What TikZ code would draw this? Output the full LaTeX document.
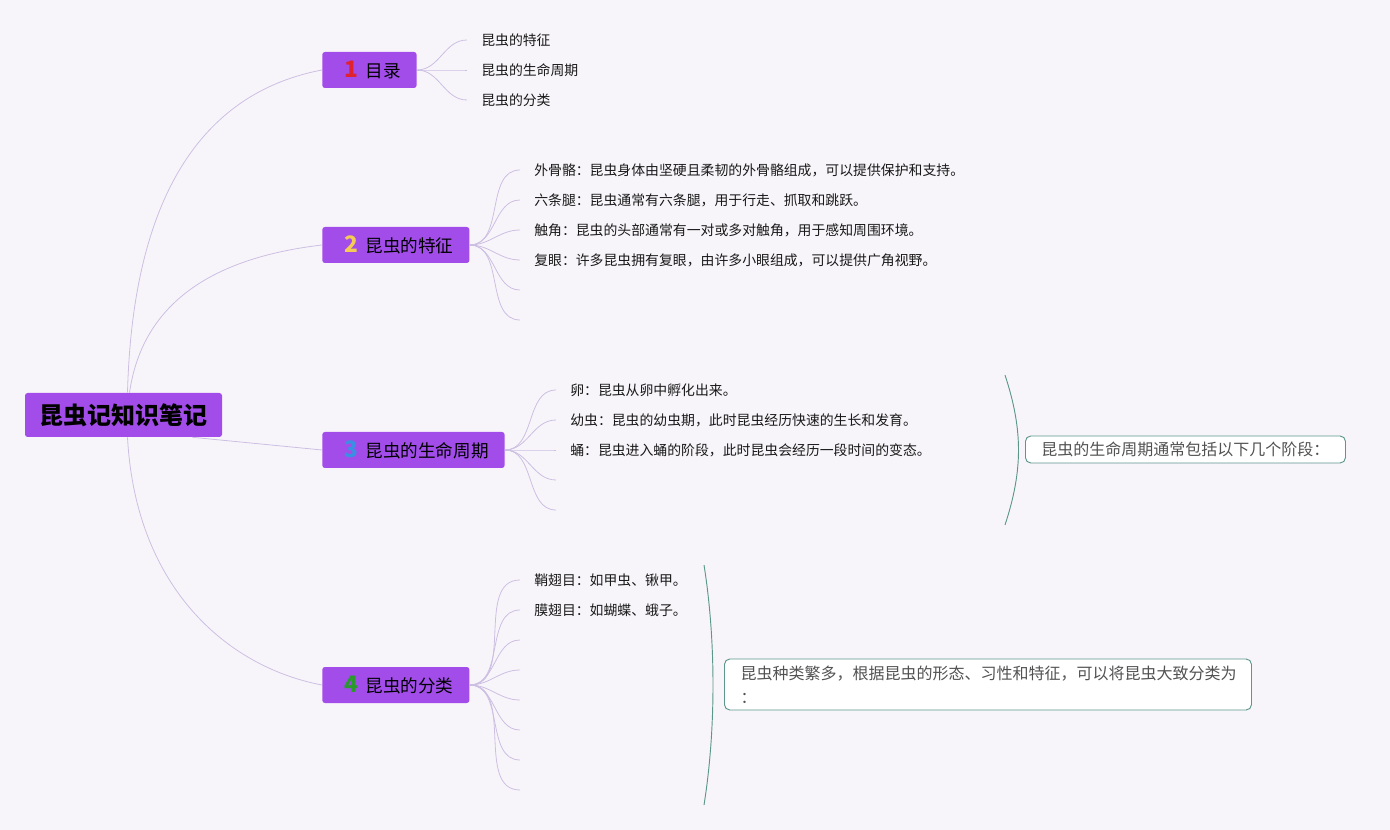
\documentclass[tikz,border=0pt]{standalone}
\usepackage{fontspec}
\setmainfont{Noto Sans CJK SC}
\usetikzlibrary{calc,positioning}
\definecolor{mapbg}{HTML}{F8F5FA}
\definecolor{topicpurple}{HTML}{A24DEA}
\definecolor{branchline}{HTML}{CCBFE2}
\definecolor{summaryline}{HTML}{5C978B}
\definecolor{numred}{HTML}{E0212E}
\definecolor{numyellow}{HTML}{F4CB55}
\definecolor{numblue}{HTML}{3A8FE2}
\definecolor{numgreen}{HTML}{2A9A2F}
\tikzset{
    mind map/.style = {x=0.75pt, y=-0.75pt},
    rootbox/.style  = {fill=topicpurple, rounded corners=2pt,
                       minimum width=147.75pt, minimum height=33pt,
                       font=\fontsize{18}{20}\selectfont\bfseries},
    topic/.style    = {fill=topicpurple, rounded corners=2pt, anchor=west,
                       minimum height=27pt, inner xsep=12pt,
                       font=\fontsize{13.2}{15}\selectfont},
    leaf/.style     = {anchor=west, inner xsep=10.5pt, inner ysep=2pt,
                       text=black!90, font=\fontsize{10.4}{12}\selectfont},
    rootlink/.style = {draw=branchline, line width=0.6pt},
    link/.style     = {draw=branchline, line width=0.6pt},
    brace/.style    = {draw=summaryline, line width=0.7pt},
    summary/.style  = {draw=summaryline, fill=white, rounded corners=4pt,
                       line width=0.7pt, text=black!68,
                       font=\fontsize{12}{18}\selectfont}
}
\newcommand{\topicnum}[2]{\hspace*{5pt}{\fontsize{17}{17}\selectfont\bfseries\color{#1}#2}\hspace{5pt}}

\begin{document}
\begin{tikzpicture}[mind map]
\useasboundingbox[fill=mapbg] (0,0) rectangle (1390,830);

% Central topic
\node[rootbox] (root) at (123.5,415) {昆虫记知识笔记};

% Main topics
\node[topic] (b1) at (322,70)  {\topicnum{numred}{1}目录};
\node[topic] (b2) at (322,245) {\topicnum{numyellow}{2}昆虫的特征};
\node[topic] (b3) at (322,450) {\topicnum{numblue}{3}昆虫的生命周期};
\node[topic] (b4) at (322,685) {\topicnum{numgreen}{4}昆虫的分类};

\draw[rootlink] ($(root.north)+(4,0)$) .. controls +(6,-230) and +(-95,18) .. (b1.west);
\draw[rootlink] ($(root.north)+(6,0)$) .. controls +(15,-105) and +(-85,10) .. (b2.west);
\draw[rootlink] ($(root.south east)+(-30,0)$) -- (b3.west);
\draw[rootlink] ($(root.south)+(4,0)$) .. controls +(8,150) and +(-95,-18) .. (b4.west);

% Topic 1: contents
\node[leaf] (a1) at (467,40)  {昆虫的特征};
\node[leaf] (a2) at (467,70)  {昆虫的生命周期};
\node[leaf] (a3) at (467,100) {昆虫的分类};
\foreach \i in {1,2,3}
    \draw[link] (b1.east) to[out=0, in=180] (a\i.west);

% Topic 2: features
\node[leaf] (f1) at (520,170) {外骨骼：昆虫身体由坚硬且柔韧的外骨骼组成，可以提供保护和支持。};
\node[leaf] (f2) at (520,200) {六条腿：昆虫通常有六条腿，用于行走、抓取和跳跃。};
\node[leaf] (f3) at (520,230) {触角：昆虫的头部通常有一对或多对触角，用于感知周围环境。};
\node[leaf] (f4) at (520,260) {复眼：许多昆虫拥有复眼，由许多小眼组成，可以提供广角视野。};
\coordinate (f5) at (520,290);
\coordinate (f6) at (520,320);
\foreach \i in {1,...,4}
    \draw[link] (b2.east) to[out=0, in=180] (f\i.west);
\foreach \i in {5,6}
    \draw[link] (b2.east) to[out=0, in=180] (f\i);

% Topic 3: life cycle
\node[leaf] (c1) at (556,390) {卵：昆虫从卵中孵化出来。};
\node[leaf] (c2) at (556,420) {幼虫：昆虫的幼虫期，此时昆虫经历快速的生长和发育。};
\node[leaf] (c3) at (556,450) {蛹：昆虫进入蛹的阶段，此时昆虫会经历一段时间的变态。};
\coordinate (c4) at (556,480);
\coordinate (c5) at (556,510);
\foreach \i in {1,2,3}
    \draw[link] (b3.east) to[out=0, in=180] (c\i.west);
\foreach \i in {4,5}
    \draw[link] (b3.east) to[out=0, in=180] (c\i);

% Summary of the life cycle
\draw[brace] (1005,375) .. controls (1023,430) and (1023,470) .. (1005,525);
\node[summary, anchor=west, minimum width=240pt, minimum height=20.25pt,
      inner xsep=11pt] (s3) at (1025,449.5) {昆虫的生命周期通常包括以下几个阶段：};

% Topic 4: classification
\node[leaf] (k1) at (520,580) {鞘翅目：如甲虫、锹甲。};
\node[leaf] (k2) at (520,610) {膜翅目：如蝴蝶、蛾子。};
\foreach \i/\y in {3/640,4/670,5/700,6/730,7/760,8/790}
    \coordinate (k\i) at (520,\y);
\foreach \i in {1,2}
    \draw[link] (b4.east) to[out=0, in=180] (k\i.west);
\foreach \i in {3,...,8}
    \draw[link] (b4.east) to[out=0, in=180] (k\i);

% Summary of the classification
\draw[brace] (704,565) .. controls (716,640) and (716,730) .. (704,805);
\node[summary, anchor=west, minimum width=395.25pt, minimum height=38.25pt,
      align=left, inner xsep=12pt, text width=371pt] (s4) at (724,684.5)
    {昆虫种类繁多，根据昆虫的形态、习性和特征，可以将昆虫大致分类为\\：};

\end{tikzpicture}
\end{document}
